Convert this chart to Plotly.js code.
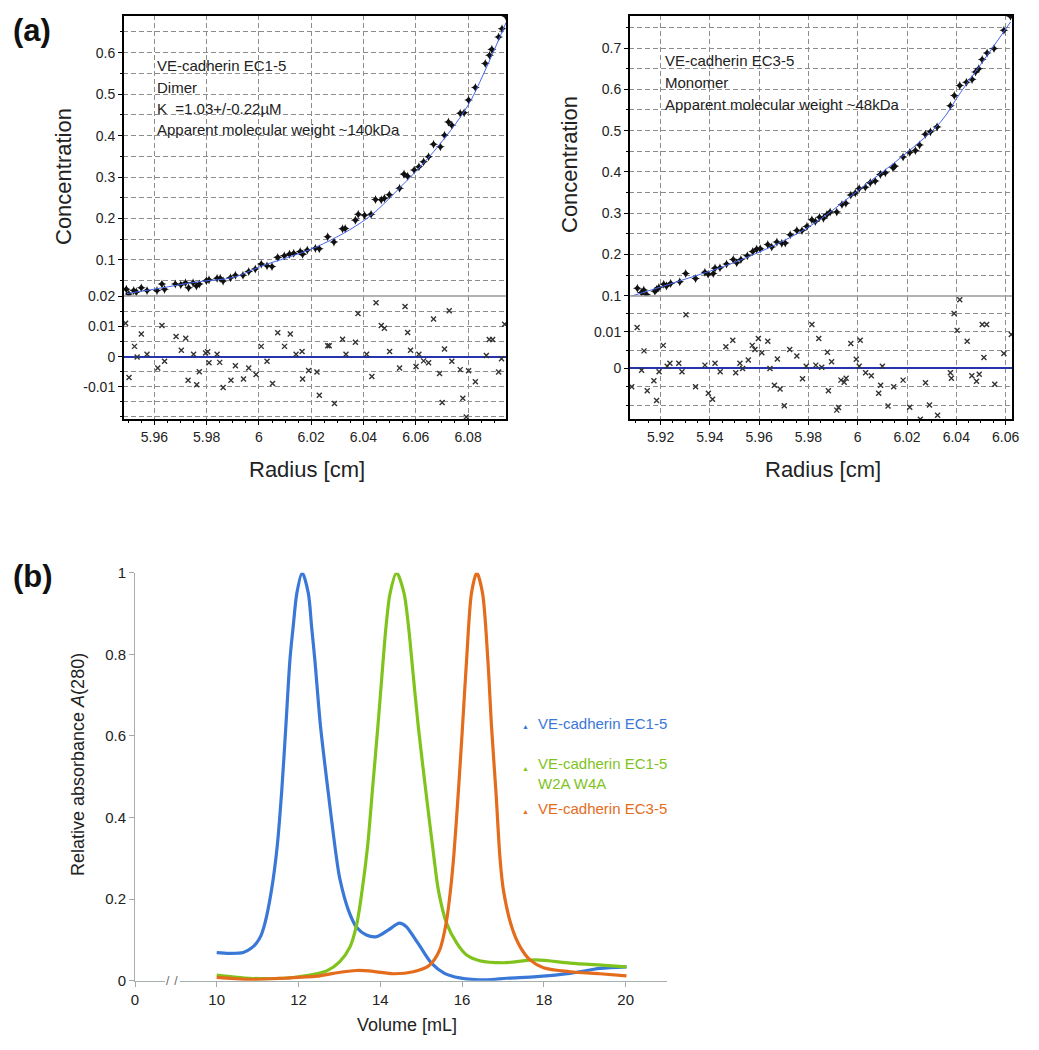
<!DOCTYPE html>
<html>
<head>
<meta charset="utf-8">
<script src="https://cdn.plot.ly/plotly-3.0.1.min.js"></script>
<style>
  body { margin: 0; background: #fff; }
  #fig { width: 1039px; height: 1050px; }
</style>
</head>
<body>
<div id="fig"></div>
<script>
// ---- panel (a) left: VE-cadherin EC1-5, sedimentation equilibrium ----
const radiusA = [5.9493,5.9502,5.9521,5.9531,5.9550,5.9572,5.9610,5.9629,5.9639,5.9680,5.9701,5.9719,5.9731,5.9748,5.9761,5.9772,5.9799,5.9809,5.9840,5.9852,5.9863,5.9891,5.9910,5.9939,5.9961,5.9986,6.0009,6.0031,6.0050,6.0072,6.0097,6.0117,6.0133,6.0158,6.0167,6.0185,6.0216,6.0231,6.0263,6.0287,6.0320,6.0330,6.0369,6.0380,6.0404,6.0429,6.0446,6.0468,6.0480,6.0499,6.0538,6.0555,6.0569,6.0594,6.0612,6.0630,6.0649,6.0668,6.0694,6.0710,6.0725,6.0738,6.0770,6.0785,6.0802,6.0828,6.0866,6.0882,6.0891,6.0917,6.0930,6.0945];
const concA = [0.029,0.018,0.026,0.023,0.033,0.026,0.026,0.042,0.029,0.042,0.040,0.045,0.033,0.045,0.037,0.042,0.050,0.052,0.056,0.056,0.049,0.057,0.063,0.063,0.072,0.078,0.090,0.086,0.084,0.106,0.110,0.114,0.116,0.120,0.114,0.124,0.128,0.127,0.156,0.143,0.175,0.176,0.196,0.210,0.208,0.210,0.246,0.245,0.249,0.257,0.273,0.307,0.302,0.317,0.325,0.337,0.349,0.379,0.373,0.401,0.433,0.425,0.454,0.455,0.486,0.516,0.574,0.594,0.608,0.638,0.658,0.688];
const radiusFitA = [5.9495,5.9585,5.9776,5.9903,6.0005,6.0222,6.0413,6.0537,6.0668,6.0796,6.0860,6.0949];
const concFitA = [0.019,0.028,0.048,0.058,0.084,0.132,0.200,0.273,0.361,0.469,0.550,0.678];
const radiusResA = [5.9490,5.9503,5.9524,5.9534,5.9550,5.9572,5.9613,5.9629,5.9639,5.9683,5.9703,5.9720,5.9729,5.9750,5.9762,5.9772,5.9796,5.9804,5.9809,5.9840,5.9850,5.9863,5.9893,5.9910,5.9941,5.9961,5.9989,6.0009,6.0031,6.0052,6.0072,6.0098,6.0120,6.0142,6.0165,6.0167,6.0190,6.0222,6.0231,6.0263,6.0269,6.0289,6.0320,6.0333,6.0369,6.0379,6.0412,6.0432,6.0448,6.0468,6.0480,6.0500,6.0538,6.0559,6.0569,6.0580,6.0601,6.0612,6.0630,6.0649,6.0668,6.0691,6.0701,6.0710,6.0728,6.0738,6.0770,6.0780,6.0793,6.0802,6.0828,6.0870,6.0881,6.0894,6.0917,6.0928,6.0940];
const resA = [0.0111,-0.0069,0.0034,-0.0001,0.0075,0.0008,-0.0038,0.0103,-0.0015,0.0067,0.0021,0.0061,-0.0078,0.0008,-0.0093,-0.0050,0.0012,0.0016,-0.0020,0.0008,-0.0019,-0.0102,-0.0078,-0.0030,-0.0074,-0.0038,-0.0059,0.0034,-0.0015,-0.0089,0.0079,0.0034,0.0075,0.0008,0.0017,-0.0074,-0.0046,-0.0051,-0.0128,0.0036,0.0036,-0.0155,0.0058,0.0008,0.0048,0.0143,0.0008,-0.0066,0.0179,0.0103,0.0094,0.0017,-0.0038,0.0166,0.0080,0.0021,-0.0033,0.0008,-0.0014,-0.0020,0.0125,-0.0056,-0.0152,0.0025,0.0152,-0.0015,-0.0043,-0.0138,-0.0200,-0.0047,-0.0083,0.0004,0.0057,0.0057,-0.0051,-0.0007,0.0107];

// ---- panel (a) right: VE-cadherin EC3-5 ----
const radiusB = [5.9106,5.9123,5.9132,5.9143,5.9177,5.9184,5.9193,5.9213,5.9224,5.9241,5.9278,5.9302,5.9342,5.9380,5.9393,5.9414,5.9421,5.9441,5.9468,5.9495,5.9509,5.9526,5.9552,5.9574,5.9590,5.9604,5.9635,5.9651,5.9672,5.9692,5.9706,5.9726,5.9753,5.9774,5.9794,5.9814,5.9828,5.9845,5.9861,5.9875,5.9888,5.9915,5.9936,5.9952,5.9972,5.9990,6.0006,6.0031,6.0051,6.0071,6.0092,6.0112,6.0143,6.0150,6.0184,6.0211,6.0234,6.0251,6.0274,6.0295,6.0322,6.0376,6.0392,6.0414,6.0441,6.0464,6.0478,6.0491,6.0505,6.0525,6.0553,6.0593,6.0620];
const concB = [0.118,0.108,0.114,0.103,0.111,0.116,0.120,0.128,0.124,0.130,0.134,0.154,0.142,0.157,0.152,0.154,0.167,0.168,0.177,0.188,0.180,0.188,0.197,0.207,0.213,0.214,0.224,0.218,0.230,0.227,0.228,0.248,0.258,0.258,0.268,0.284,0.280,0.290,0.288,0.297,0.303,0.303,0.321,0.324,0.344,0.349,0.360,0.363,0.374,0.378,0.394,0.398,0.410,0.414,0.436,0.447,0.452,0.465,0.491,0.497,0.509,0.560,0.585,0.609,0.617,0.624,0.642,0.650,0.672,0.688,0.699,0.743,0.777];
const radiusFitB = [5.9075,5.9246,5.9526,5.9794,5.9997,6.0200,6.0335,6.0418,6.0525,6.0620];
const concFitB = [0.098,0.130,0.187,0.264,0.353,0.447,0.520,0.593,0.682,0.763];
const radiusResB = [5.9083,5.9105,5.9123,5.9133,5.9146,5.9173,5.9184,5.9194,5.9211,5.9227,5.9238,5.9274,5.9287,5.9303,5.9342,5.9380,5.9394,5.9411,5.9421,5.9442,5.9465,5.9493,5.9505,5.9522,5.9533,5.9556,5.9572,5.9583,5.9597,5.9611,5.9635,5.9644,5.9662,5.9674,5.9685,5.9702,5.9724,5.9753,5.9776,5.9791,5.9814,5.9830,5.9842,5.9854,5.9877,5.9881,5.9894,5.9915,5.9922,5.9932,5.9945,5.9953,5.9972,5.9994,6.0006,6.0010,6.0032,6.0055,6.0085,6.0093,6.0100,6.0123,6.0146,6.0184,6.0211,6.0254,6.0275,6.0291,6.0324,6.0376,6.0380,6.0391,6.0403,6.0414,6.0444,6.0463,6.0482,6.0493,6.0505,6.0512,6.0523,6.0556,6.0593,6.0623];
const resB = [-0.0050,0.0112,-0.0005,0.0048,-0.0061,-0.0034,-0.0088,-0.0009,0.0063,0.0006,0.0014,0.0014,-0.0009,0.0147,-0.0050,0.0009,-0.0068,-0.0084,0.0014,-0.0009,0.0059,0.0077,-0.0012,0.0014,0.0000,0.0023,0.0063,0.0052,0.0082,0.0043,0.0074,0.0000,-0.0046,0.0026,-0.0056,-0.0102,0.0052,0.0034,-0.0028,0.0006,0.0120,0.0009,0.0082,0.0003,0.0044,-0.0061,0.0018,-0.0114,-0.0107,-0.0032,-0.0038,-0.0027,0.0068,0.0025,0.0006,0.0077,-0.0012,-0.0020,-0.0068,-0.0046,0.0006,-0.0103,-0.0050,-0.0032,-0.0106,-0.0139,-0.0039,-0.0100,-0.0128,-0.0012,-0.0027,0.0150,0.0104,0.0188,0.0074,-0.0020,-0.0035,-0.0016,0.0120,0.0030,0.0120,-0.0043,0.0041,0.0093];

// ---- panel (b): size exclusion chromatograms ----
const volEC15 = [10.0,10.3,10.65,10.85,10.97,11.08,11.18,11.34,11.48,11.59,11.69,11.79,11.87,11.96,12.09,12.24,12.32,12.40,12.54,12.73,12.93,13.01,13.22,13.42,13.66,13.91,14.19,14.47,14.63,14.92,15.25,15.57,15.94,16.6,17.09,17.82,18.64,19.37,20.02];
const absEC15 = [0.069,0.067,0.069,0.080,0.092,0.110,0.141,0.222,0.330,0.465,0.622,0.786,0.868,0.950,1.000,0.950,0.868,0.786,0.622,0.459,0.300,0.250,0.173,0.131,0.112,0.108,0.124,0.141,0.133,0.092,0.043,0.018,0.007,0.002,0.006,0.010,0.018,0.030,0.034];
const volW2A = [10.0,10.81,11.63,12.28,12.69,13.01,13.26,13.42,13.54,13.69,13.81,13.94,14.07,14.14,14.24,14.40,14.58,14.69,14.77,14.93,15.12,15.29,15.42,15.62,15.87,16.11,16.43,17.0,17.82,18.64,19.4,20.02];
const absW2A = [0.014,0.006,0.006,0.014,0.024,0.047,0.083,0.136,0.210,0.330,0.470,0.622,0.786,0.868,0.950,1.000,0.950,0.868,0.786,0.622,0.459,0.320,0.222,0.141,0.092,0.063,0.049,0.044,0.051,0.043,0.038,0.034];
const volEC35 = [10.0,10.81,11.63,12.45,12.85,13.42,13.83,14.32,14.81,15.2,15.45,15.61,15.72,15.80,15.91,16.01,16.11,16.23,16.36,16.50,16.63,16.72,16.83,16.93,17.01,17.21,17.42,17.66,17.99,18.64,19.37,20.02];
const absEC35 = [0.008,0.003,0.006,0.011,0.018,0.025,0.023,0.017,0.022,0.038,0.075,0.141,0.225,0.310,0.465,0.622,0.786,0.950,1.000,0.950,0.786,0.622,0.459,0.296,0.222,0.133,0.083,0.051,0.032,0.022,0.017,0.012];

const volTicks = [10, 12, 14, 16, 18, 20];
const seriesNames = ["VE-cadherin EC1-5", "VE-cadherin EC1-5<br>W2A W4A", "VE-cadherin EC3-5"];
const seriesColors = ["#3a78d8", "#80c31d", "#e36c1d"];

// pixel helpers for layout placement
const W = 1039, H = 1050;
const X = p => p / W;
const Y = p => 1 - p / H;

const FONT = "Liberation Sans, Arial, sans-serif";
const GRID = "#8c8c8c";
const DASH = "5px,3px";

const dataMarker = { symbol: "star-diamond", size: 6.5, color: "#111" };
const resMarker = { symbol: "x-thin", size: 5, line: { width: 1.4, color: "#333" } };
const fitLine = { color: "#4565ee", width: 1 };

const traces = [
  { x: radiusA, y: concA, xaxis: "x", yaxis: "y", mode: "markers", marker: dataMarker },
  { x: radiusFitA, y: concFitA, xaxis: "x", yaxis: "y", mode: "lines", line: Object.assign({ shape: "spline" }, fitLine) },
  { x: radiusResA, y: resA, xaxis: "x", yaxis: "y2", mode: "markers", marker: resMarker },
  { x: radiusB, y: concB, xaxis: "x2", yaxis: "y3", mode: "markers", marker: dataMarker },
  { x: radiusFitB, y: concFitB, xaxis: "x2", yaxis: "y3", mode: "lines", line: Object.assign({ shape: "spline" }, fitLine) },
  { x: radiusResB, y: resB, xaxis: "x2", yaxis: "y4", mode: "markers", marker: resMarker },
  { x: volEC15, y: absEC15, xaxis: "x3", yaxis: "y5", mode: "lines", name: seriesNames[0],
    line: { color: seriesColors[0], width: 3.2, shape: "spline", smoothing: 0.8 } },
  { x: volW2A, y: absW2A, xaxis: "x3", yaxis: "y5", mode: "lines", name: seriesNames[1],
    line: { color: seriesColors[1], width: 3.2, shape: "spline", smoothing: 0.8 } },
  { x: volEC35, y: absEC35, xaxis: "x3", yaxis: "y5", mode: "lines", name: seriesNames[2],
    line: { color: seriesColors[2], width: 3.2, shape: "spline", smoothing: 0.8 } },
];

function radiusAxis(domain, range, anchor) {
  return {
    domain: domain, range: range, anchor: anchor,
    tick0: 6, dtick: 0.02, ticks: "outside", ticklen: 4, tickcolor: "#000",
    showgrid: true, gridcolor: GRID, griddash: DASH, gridwidth: 1,
    zeroline: false, showline: false,
    tickfont: { family: FONT, size: 14, color: "#222" },
    minor: { dtick: 0.005, ticks: "outside", ticklen: 2, tickcolor: "#000", showgrid: false },
  };
}
function concAxis(domain, range, anchor) {
  return {
    domain: domain, range: range, anchor: anchor,
    tick0: 0, dtick: 0.1, ticks: "outside", ticklen: 4, tickcolor: "#000",
    showgrid: true, gridcolor: GRID, griddash: DASH, gridwidth: 1,
    zeroline: false, showline: false,
    tickfont: { family: FONT, size: 14, color: "#222" },
    minor: { tickmode: "linear", tick0: 0, dtick: 0.05, ticks: "outside", ticklen: 2, tickcolor: "#000",
             showgrid: true, gridcolor: GRID, griddash: DASH, gridwidth: 1 },
  };
}
function resAxis(domain, range, anchor, vals, text) {
  return {
    domain: domain, range: range, anchor: anchor,
    tickmode: "array", tickvals: vals, ticktext: text,
    ticks: "outside", ticklen: 4, tickcolor: "#000",
    showgrid: false,
    zeroline: true, zerolinecolor: "#2634b0", zerolinewidth: 2,
    showline: false,
    tickfont: { family: FONT, size: 14, color: "#222" },
    minor: { tickmode: "linear", tick0: 0, dtick: 0.005, ticks: "outside", ticklen: 2, tickcolor: "#000",
             showgrid: true, gridcolor: GRID, griddash: DASH, gridwidth: 1 },
  };
}

const upperDom = [Y(296), Y(15)];
const resDom = [Y(420), Y(296)];
const volStart = 10 - 81.7 / 40.9;   // axis origin, drawn as the broken "0"

const layout = {
  width: W, height: H,
  margin: { l: 0, r: 0, t: 0, b: 0 },
  paper_bgcolor: "#fff", plot_bgcolor: "#fff",
  showlegend: false,
  font: { family: FONT, color: "#222" },

  xaxis: radiusAxis([X(123), X(507)], [5.948, 6.0949], "y2"),
  yaxis: concAxis(upperDom, [0.013, 0.691], "x"),
  yaxis2: resAxis(resDom, [-0.021, 0.0201], "x", [0.02, 0.01, 0, -0.01], ["0.02", "0.01", "0", "-0.01"]),

  xaxis2: radiusAxis([X(629), X(1013)], [5.9072, 6.063], "y4"),
  yaxis3: concAxis(upperDom, [0.0995, 0.78], "x2"),
  yaxis4: resAxis(resDom, [-0.0141, 0.0198], "x2", [0.01, 0], ["0.01", "0"]),

  xaxis3: {
    domain: [X(135), X(667)], range: [volStart, 21.01], anchor: "y5",
    tickmode: "array", tickvals: [volStart].concat(volTicks),
    ticktext: ["0"].concat(volTicks.map(String)),
    ticks: "outside", ticklen: 5, tickcolor: "#a6a6a6",
    showline: true, linecolor: "#a6b0b0", linewidth: 1,
    showgrid: false, zeroline: false,
    tickfont: { family: FONT, size: 15, color: "#222" },
  },
  yaxis5: {
    domain: [Y(980.7), Y(572.7)], range: [0, 1], anchor: "x3",
    dtick: 0.2, ticks: "outside", ticklen: 5, tickcolor: "#a6a6a6",
    showline: true, linecolor: "#a6b0b0", linewidth: 1,
    showgrid: false, zeroline: false,
    tickfont: { family: FONT, size: 15, color: "#222" },
  },

  shapes: [
    { type: "line", xref: "paper", yref: "paper", x0: X(123), x1: X(507), y0: Y(296), y1: Y(296),
      line: { color: "#9a9a9a", width: 1.5 } },
    { type: "line", xref: "paper", yref: "paper", x0: X(629), x1: X(1013), y0: Y(296), y1: Y(296),
      line: { color: "#9a9a9a", width: 1.5 } },
    { type: "rect", xref: "paper", yref: "paper", x0: X(123), x1: X(507), y0: Y(420), y1: Y(15),
      line: { color: "#000", width: 2 } },
    { type: "rect", xref: "paper", yref: "paper", x0: X(629), x1: X(1013), y0: Y(420), y1: Y(15),
      line: { color: "#000", width: 2 } },
    // gap in the broken volume axis
    { type: "line", xref: "paper", yref: "paper", x0: X(165), x1: X(180), y0: Y(980.7), y1: Y(980.7),
      line: { color: "#fff", width: 3 } },
  ],

  annotations: [],
};

function note(text, px, py, opts) {
  layout.annotations.push(Object.assign({
    text: text, xref: "paper", yref: "paper", x: X(px), y: Y(py),
    xanchor: "left", yanchor: "middle", showarrow: false,
    font: { family: FONT, size: 15, color: "#222" },
  }, opts || {}));
}

// panel labels
note("<b>(a)</b>", 11, 31, { font: { family: FONT, size: 31, color: "#111" } });
note("<b>(b)</b>", 11, 576, { font: { family: FONT, size: 31, color: "#111" } });

// axis titles, panel (a)
note("Concentration", 63, 177, { xanchor: "center", textangle: -90, font: { family: FONT, size: 22, color: "#222" } });
note("Concentration", 569, 165, { xanchor: "center", textangle: -90, font: { family: FONT, size: 22, color: "#222" } });
note("Radius [cm]", 307, 470, { xanchor: "center", font: { family: FONT, size: 22, color: "#222" } });
note("Radius [cm]", 823, 470, { xanchor: "center", font: { family: FONT, size: 22, color: "#222" } });

// fit information
note("VE-cadherin EC1-5", 155, 65);
note("Dimer", 155, 87);
note("K\u00a0\u00a0=1.03+/-0.22\u00b5M", 155, 108);
note("Apparent molecular weight ~140kDa", 155, 129);
note("VE-cadherin EC3-5", 663, 61);
note("Monomer", 663, 83);
note("Apparent molecular weight ~48kDa", 663, 104);

// axis titles, panel (b)
note("Relative absorbance <i>A</i>(280)", 78, 765, { xanchor: "center", textangle: -90, font: { family: FONT, size: 18, color: "#222" } });
note("Volume [mL]", 407, 1025, { xanchor: "center", font: { family: FONT, size: 18, color: "#222" } });
note("/\u2009\u2009/", 172, 981, { xanchor: "center", font: { family: FONT, size: 12, color: "#666" } });

// legend of panel (b)
const legendRows = [723, 765, 808];
seriesNames.forEach((name, i) => {
  note("\u25b2", 525, legendRows[i] + 3, { xanchor: "center", font: { family: FONT, size: 7, color: seriesColors[i] } });
  note(name, 536, i === 1 ? legendRows[i] + 8 : legendRows[i],
       { align: "left", font: { family: FONT, size: 15, color: seriesColors[i] } });
});

Plotly.newPlot("fig", traces, layout, { staticPlot: true, displayModeBar: false });
</script>
</body>
</html>
